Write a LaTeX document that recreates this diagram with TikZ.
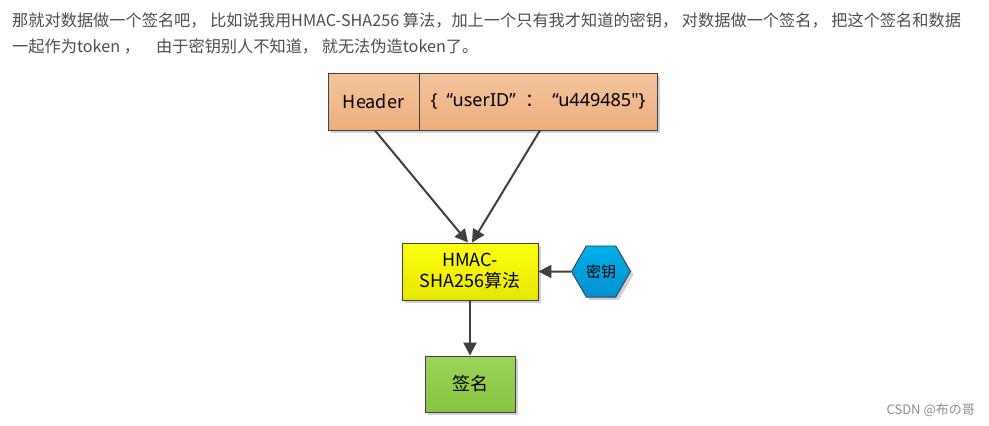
\documentclass[tikz,border=0pt]{standalone}
\usepackage{fontspec}
\setmainfont{Noto Sans CJK SC}
\newfontfamily\latf{Noto Sans}
\usetikzlibrary{arrows.meta,shapes.geometric,shadows}
\definecolor{txt}{HTML}{4D4D4D}
\definecolor{edge}{HTML}{404040}
\definecolor{orTop}{HTML}{F3C59E}
\definecolor{orBot}{HTML}{EDAE7E}
\definecolor{yeTop}{HTML}{FFFF10}
\definecolor{yeBot}{HTML}{E6E600}
\definecolor{blTop}{HTML}{00B0EA}
\definecolor{blBot}{HTML}{0090CF}
\definecolor{grTop}{HTML}{9AD65A}
\definecolor{grBot}{HTML}{86C440}
\tikzset{
  box/.style={draw=edge, line width=0.9pt, inner sep=0pt, font=\fontsize{18}{21}\selectfont, text=black,
    drop shadow={shadow xshift=3pt, shadow yshift=-3pt, fill=black!18, opacity=1}},
  arr/.style={draw=edge, line width=2pt, -{Triangle[length=13pt,width=13pt]}},
  para/.style={anchor=west, inner sep=0pt, text=txt, font=\fontsize{16.2}{18}\selectfont}
}
\begin{document}
\begin{tikzpicture}[x=1pt,y=-1pt]
\useasboundingbox[fill=white] (0,0) rectangle (989,426);
\node[para] (l1) at (12,20) {那就对数据做一个签名吧， 比如说我用HMAC-SHA256 算法，加上一个只有我才知道的密钥， 对数据做一个签名， 把这个签名和数据};
\node[para] (l2) at (12,46) {一起作为token ，\quad 由于密钥别人不知道， 就无法伪造token了。};

\node[box, top color=orTop, bottom color=orBot, minimum width=91pt, minimum height=57pt] (hdr) at (373.5,101.5) {Header};
\node[box, top color=orTop, bottom color=orBot, minimum width=238pt, minimum height=57pt] (dat) at (538,101.5) {{\latf\{\ \ “userID”\ \ }：{\latf\ \ “u449485"\}}};
\node[box, top color=yeTop, bottom color=yeBot, minimum width=136pt, minimum height=57pt, align=center, font=\fontsize{18}{21}\selectfont] (hmac) at (470,271.5) {HMAC-\\SHA256算法};
\node[box, regular polygon, regular polygon sides=6, minimum size=59pt, top color=blTop, bottom color=blBot, font=\fontsize{15}{17}\selectfont] (key) at (601,271.5) {密钥};
\node[box, top color=grTop, bottom color=grBot, minimum width=90pt, minimum height=56pt] (sig) at (470,384) {签名};

\draw[arr] ([xshift=1.5pt]hdr.south) -- ([xshift=-2pt]hmac.north);
\draw[arr] ([xshift=2pt]dat.south) -- ([xshift=2pt]hmac.north);
\draw[arr] (key.west) -- (hmac.east);
\draw[arr] (hmac.south) -- (sig.north);

\node[anchor=east, inner sep=0pt, text=black!45, font=\fontsize{13}{15}\selectfont] (wm) at (975,410) {CSDN @布の哥};
\end{tikzpicture}
\end{document}
